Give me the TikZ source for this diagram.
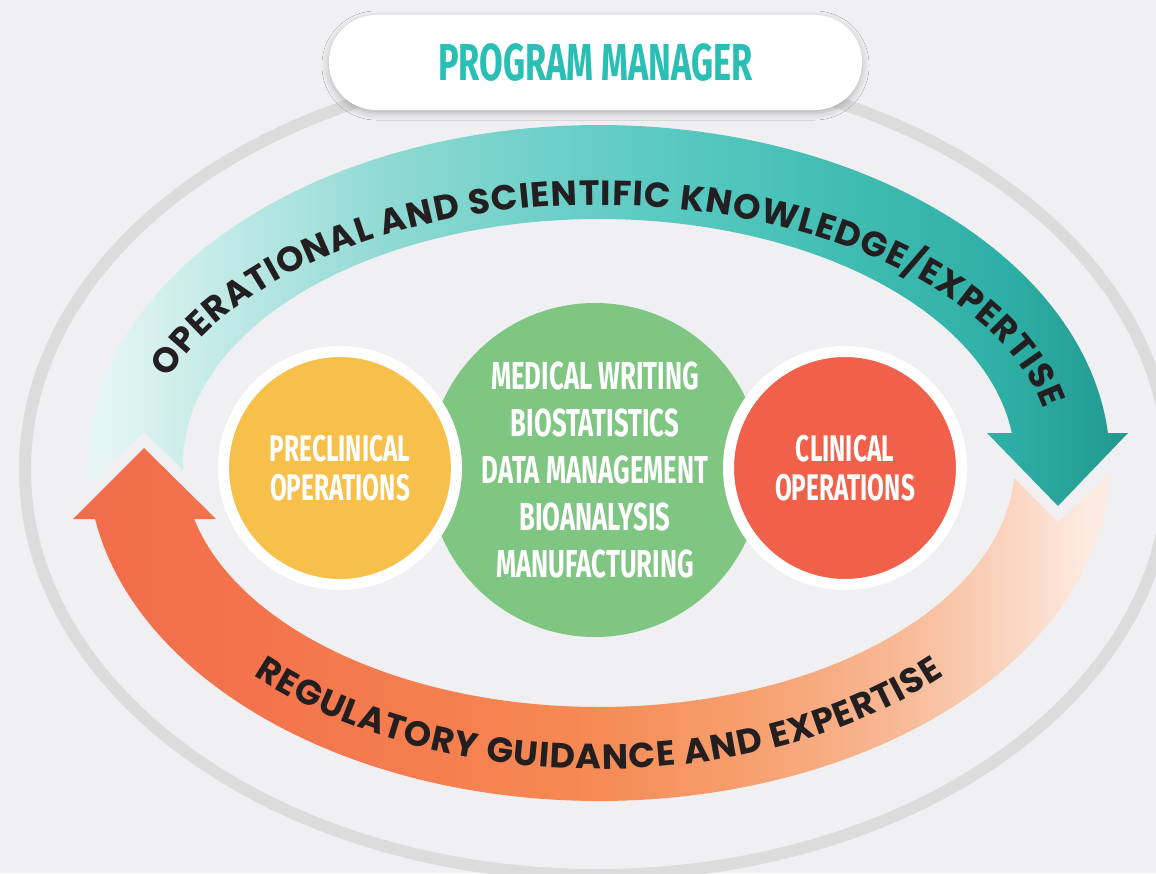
\documentclass[tikz,border=0pt]{standalone}
\usepackage{fontspec}
\usetikzlibrary{decorations.text,shadows.blur}
\newfontfamily\arcfont{Poppins}
\newfontfamily\condfont[FakeStretch=0.66]{Fira Sans}
\definecolor{bg}{HTML}{F0F0F2}
\definecolor{ringgray}{HTML}{DCDCDC}
\definecolor{pmteal}{HTML}{2ABFB4}
\definecolor{arctext}{HTML}{231F20}
\definecolor{cyellow}{HTML}{F6C04A}
\definecolor{cgreen}{HTML}{80C683}
\definecolor{cred}{HTML}{F0604A}
\definecolor{tA}{HTML}{E6F6F5}
\definecolor{tB}{HTML}{8FD9D3}
\definecolor{tC}{HTML}{64CDC6}
\definecolor{tD}{HTML}{4DC4BB}
\definecolor{tE}{HTML}{2EAFA5}
\definecolor{tF}{HTML}{219890}
\definecolor{oA}{HTML}{F26C4B}
\definecolor{oB}{HTML}{F3744C}
\definecolor{oC}{HTML}{F5804F}
\definecolor{oD}{HTML}{F58B55}
\definecolor{oE}{HTML}{F6A070}
\definecolor{oF}{HTML}{F8B996}
\definecolor{oG}{HTML}{FAD2BC}
\definecolor{oH}{HTML}{FDEBE2}
\pgfdeclarehorizontalshading{tealgrad}{100bp}{color(0bp)=(tA); color(25.5bp)=(tA); color(39.5bp)=(tB); color(49.5bp)=(tC); color(57bp)=(tD); color(69bp)=(tE); color(75bp)=(tF); color(100bp)=(tF)}
\pgfdeclarehorizontalshading{orangegrad}{100bp}{color(0bp)=(oA); color(25bp)=(oA); color(33.9bp)=(oB); color(43.2bp)=(oC); color(50.4bp)=(oD); color(57.7bp)=(oE); color(64.9bp)=(oF); color(69.7bp)=(oG); color(74bp)=(oH); color(100bp)=(oH)}
\begin{document}
\begin{tikzpicture}[x=1pt,y=-1pt,
  pmbox/.style={fill=white, rounded corners=47pt, minimum width=533pt, minimum height=95pt, inner sep=0pt,
    blur shadow={shadow xshift=0pt, shadow yshift=-3pt, shadow blur radius=7pt, shadow opacity=25},
    font=\condfont\bfseries\fontsize{52}{52}\selectfont, text=pmteal},
  bigcirc/.style={circle, fill=cgreen, minimum size=334pt, inner sep=0pt, text=white, align=center,
    font=\condfont\bfseries\fontsize{39}{47}\selectfont},
  smallcirc/.style={circle, draw=white, line width=11pt, minimum size=233pt, inner sep=0pt, text=white, align=center,
    font=\condfont\bfseries\fontsize{37}{39}\selectfont},
  ringline/.style={ringgray, line width=12pt}]
\useasboundingbox (0,0) rectangle (1156,873);
\fill[bg] (0,0) rectangle (1156,873);
% outer gray ellipse
\draw[ringline] (597,470) ellipse [x radius=572pt, y radius=405pt];
% program manager
\node[pmbox] (pm) at (595.5,62.5) {PROGRAM MANAGER};
% teal arrow (top)
\shade[shading=tealgrad]
  plot[domain=176.61:354.91, samples=120, variable=\t] ({599+511*cos(\t)},{463+338*sin(\t)})
  -- (1128,433) -- (1058,506) -- (987,433)
  -- plot[domain=352.94:178.36, samples=120, variable=\t] ({599+416*cos(\t)},{463+244*sin(\t)})
  -- (144,432) -- cycle;
% orange arrow (bottom)
\shade[shading=orangegrad]
  plot[domain=170.46:2.03, samples=120, variable=\t] ({599+511*cos(\t)},{463+338*sin(\t)})
  -- (1058,522)
  -- plot[domain=3.53:166.73, samples=120, variable=\t] ({599+416*cos(\t)},{463+244*sin(\t)})
  -- (216,519) -- (144,448) -- (73,519) -- cycle;
% arc texts
\path[decorate, decoration={text along path, text color=arctext, text align={fit to path},
  text={|\arcfont\bfseries\fontsize{35}{35}\selectfont|OPERATIONAL AND SCIENTIFIC KNOWLEDGE/EXPERTISE}}]
  plot[domain=199:348, samples=150, variable=\t] ({599+455*cos(\t)},{463+258*sin(\t)});
\path[decorate, decoration={text along path, text color=arctext, text align={fit to path},
  text={|\arcfont\bfseries\fontsize{35}{35}\selectfont|REGULATORY GUIDANCE AND EXPERTISE}}]
  plot[domain=136:44, samples=150, variable=\t] ({599+480*cos(\t)},{463+306*sin(\t)});
% circles
\node[bigcirc] (green) at (595,470) {MEDICAL WRITING\\BIOSTATISTICS\\DATA MANAGEMENT\\BIOANALYSIS\\MANUFACTURING};
\node[smallcirc, fill=cyellow] (pre) at (340,468) {PRECLINICAL\\OPERATIONS};
\node[smallcirc, fill=cred] (clin) at (845,468) {CLINICAL\\OPERATIONS};
\end{tikzpicture}
\end{document}
